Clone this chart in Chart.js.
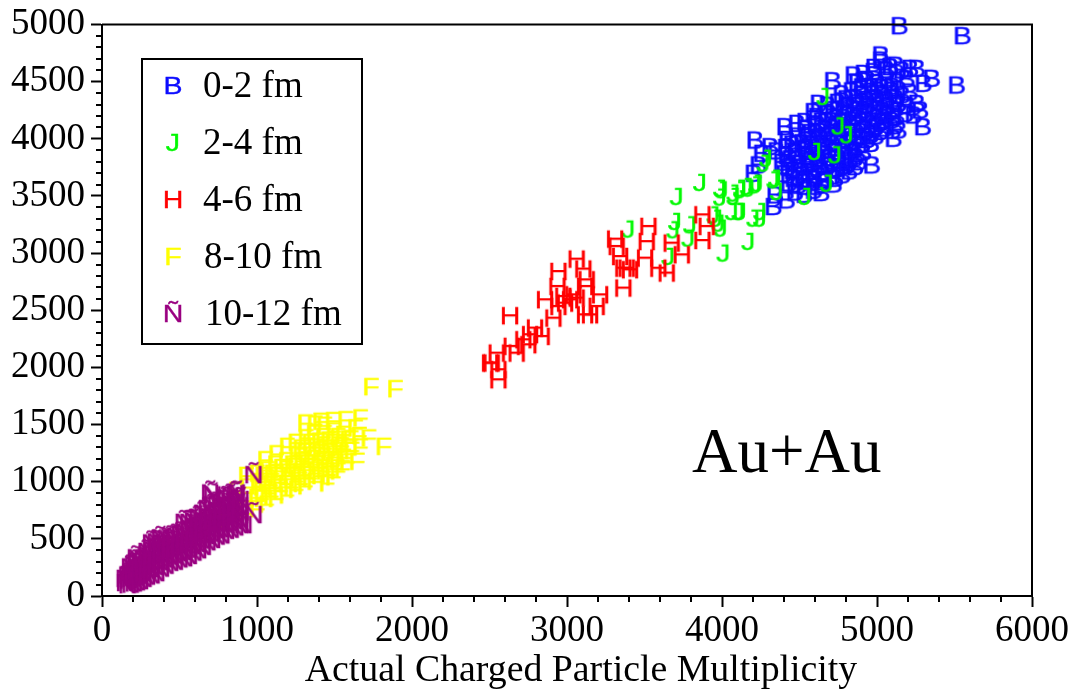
<!DOCTYPE html>
<html>
<head>
<meta charset="utf-8">
<title>Au+Au</title>
<script src="https://cdn.jsdelivr.net/npm/chart.js@4"></script>
<style>
  html, body { margin: 0; padding: 0; background: #fff; }
  #wrap { width: 1075px; height: 692px; }
</style>
</head>
<body>
<div id="wrap"><canvas id="chart" width="1075" height="692"></canvas></div>
<script>
const seriesLabels = ['0-2 fm', '2-4 fm', '4-6 fm', '8-10 fm', '10-12 fm'];
const seriesLetters = ['B', 'J', 'H', 'F', 'Ñ'];
const seriesColors = ['#0c0cff', '#00f800', '#ff0000', '#ffff00', '#990080'];

// [multiplicity, y]
const blue = [
  [5144,4985],[5551,4898],[5514,4466],[4714,4504],[5024,4729],[5024,4685],[4847,4554],[4912,4568],[4976,4583],
  [5084,4627],[5159,4598],[5256,4612],[5213,4612],[5353,4525],[5299,4481],[5256,4306],[5278,4248],[5235,4204],
  [5295,4102],[5106,4000],[5138,4073],[4966,3767],[4858,3752],[4729,3650],[4213,3985],[4310,3927],[4256,3869],
  [4234,3767],[4202,3694],[4342,3505],[4417,3461],[4331,3403],[4622,4306],[4589,4233],[4406,4102],[4482,4131],[4535,4146],
  [4470,3530],[4530,3510],[4590,3545],[4640,3525],
  [4430,3610],[4490,3590],[4555,3625],[4610,3580],[4670,3640],[4720,3600],
  [4400,3690],[4455,3720],[4520,3680],[4585,3710],[4650,3695],[4710,3730],[4775,3680],[4820,3715],
  [4385,3790],[4440,3820],[4505,3780],[4570,3815],[4630,3800],[4695,3830],[4760,3785],[4825,3810],[4880,3795],
  [4350,3890],[4410,3920],[4470,3880],[4535,3910],[4600,3895],[4660,3925],[4725,3885],[4790,3915],[4855,3900],[4910,3880],
  [4420,3990],[4480,4020],[4545,3985],[4610,4010],[4675,3995],[4740,4025],[4805,3980],[4870,4010],[4935,3990],[4990,4020],
  [4540,4090],[4600,4115],[4665,4085],[4730,4110],[4795,4095],[4860,4120],[4925,4080],[4990,4105],[5050,4090],[5115,4110],
  [4610,4190],[4675,4215],[4740,4185],[4805,4210],[4870,4195],[4935,4220],[5000,4180],[5060,4205],[5125,4190],[5180,4215],
  [4680,4290],[4745,4315],[4810,4285],[4875,4310],[4940,4295],[5005,4320],[5070,4280],[5135,4305],[5190,4290],
  [4770,4390],[4835,4415],[4900,4385],[4965,4410],[5030,4395],[5095,4420],[5160,4380],[5210,4405],
  [4870,4490],[4935,4515],[5000,4485],[5065,4510],[5130,4495],[5190,4520],
  [4980,4620],[5060,4600],[5120,4640],
  [4460,3650],[4525,3640],[4590,3660],[4650,3620],[4425,3750],[4490,3740],[4550,3765],[4615,3745],[4680,3760],[4745,3735],[4800,3760],
  [4415,3850],[4480,3845],[4545,3860],[4610,3850],[4670,3865],[4740,3845],[4800,3860],[4860,3845],[4450,3950],[4515,3960],[4575,3945],
  [4640,3955],[4705,3960],[4770,3950],[4835,3960],[4900,3945],[4960,3955],[4570,4050],[4635,4060],[4700,4045],[4765,4060],[4830,4050],
  [4895,4060],[4960,4045],[5020,4060],[4640,4150],[4705,4155],[4770,4145],[4835,4160],[4900,4150],[4965,4155],[5030,4145],[5090,4160],
  [4715,4250],[4780,4245],[4845,4260],[4910,4250],[4970,4255],[5035,4245],[5100,4255],[4800,4345],[4865,4350],[4930,4340],[4995,4355],
  [5060,4345],[5120,4350],[4900,4450],[4965,4455],[5030,4445],[5095,4455]
];
const green = [
  [3396,3205],[3708,3490],[3858,3613],[3987,3563],[3998,3549],[3987,3485],[3697,3272],[3686,3199],[3794,3243],
  [3783,3126],[3654,2966],[3944,3330],[3962,3301],[3977,3257],[3992,3214],[4063,3359],[4116,3359],[4202,3301],
  [4245,3301],[4170,3097],[4009,2995],[4073,3520],[4116,3549],[4159,3578],[4224,3607],[4331,3636],[4267,3782],
  [4654,4365],[4751,4108],[4805,4030],[4600,3884],[4730,3855],[4284,3826],[4342,3651],[4353,3534],[4536,3491],
  [4676,3607],[4117,3563],[4170,3563],[4213,3592],[4106,3359],[4246,3359],[4074,3491]
];
const red = [
  [2632,2448],[2514,2034],[2557,1888],[2503,2034],[2557,1976],[2546,2121],[2643,2180],[2675,2121],[2750,2194],
  [2761,2282],[2793,2340],[2836,2267],[2718,2238],[2912,2427],[2858,2588],[2944,2529],[2987,2558],[3019,2588],
  [3062,2602],[3116,2704],[3213,2631],[3191,2529],[3148,2456],[3116,2456],[2938,2704],[2944,2835],[3062,2943],
  [3105,2856],[3127,2762],[3363,2690],[3310,3118],[3342,2966],[3363,2864],[3406,2850],[3385,2864],[3503,2952],
  [3589,2864],[3643,2821],[3740,2981],[3675,3083],[3514,3097],[3525,3229],[3873,3106],[3901,3229],[3873,3331],
  [2976,2617],[3041,2631],[3320,3054]
];
const yellow = [
  [1735,1827],[1890,1809],[1816,1305],[1310,1509],[1407,1524],[1569,1538],[1665,1553],[1633,1465],[1719,1378],
  [1644,1174],[1450,985],[1192,1305],[1052,1188],
  [800,660],[808,780],[860,700],[852,820],[866,920],[930,720],[925,830],[936,950],[928,1050],
  [1000,760],[994,860],[1006,960],[998,1070],[1060,800],[1068,900],[1055,1000],[1064,1100],
  [1120,850],[1112,950],[1126,1050],[1116,1150],[1124,1240],[1190,880],[1184,980],[1196,1080],[1186,1180],
  [1250,930],[1258,1030],[1244,1130],[1254,1230],[1248,1340],[1310,960],[1304,1060],[1316,1160],[1306,1260],[1314,1380],
  [1370,1000],[1376,1100],[1364,1200],[1374,1300],[1366,1420],[1372,1500],[1430,1090],[1424,1190],[1436,1290],[1426,1390],[1434,1490],
  [1490,1040],[1484,1140],[1496,1240],[1486,1340],[1494,1440],[1488,1530],[1550,1110],[1556,1210],[1544,1310],[1554,1410],
  [1610,1270],[1604,1370],[1665,1300],[1658,1400],
  [1030,850],[1025,950],[1035,1050],[1090,870],[1085,970],[1095,1070],[1150,920],[1145,1020],[1155,1120],[1220,950],[1215,1050],[1225,1150],
  [1280,980],[1275,1080],[1285,1180],[1280,1290],[1340,1030],[1335,1130],[1345,1230],[1340,1340],[1400,1050],[1395,1150],[1405,1250],[1400,1350],
  [1460,1060],[1455,1160],[1465,1260],[1460,1360],[1520,1090],[1515,1190],[1525,1290],[1520,1390],[1580,1170],[1575,1270],[1585,1370]
];
const purple = [
  [977,708],[977,1057],[912,620],[697,897],[869,897],
  [148,114],[146,150],[165,95],[168,135],[163,180],[185,100],[182,150],[188,200],[180,250],
  [205,110],[200,160],[208,210],[202,270],[225,120],[220,170],[228,225],[222,295],[218,330],
  [245,130],[240,180],[248,235],[243,295],[268,150],[264,200],[270,255],[262,315],
  [290,170],[296,220],[288,275],[293,330],[287,385],[320,180],[315,235],[323,290],[318,345],[325,400],[316,460],
  [350,200],[345,255],[353,310],[348,365],[355,420],[346,470],[380,240],[376,295],[384,350],[378,405],[386,460],[375,500],
  [410,265],[405,320],[413,375],[408,430],[414,485],[440,290],[436,345],[444,400],[438,455],[443,505],
  [470,300],[465,355],[474,410],[468,465],[472,520],[500,320],[496,375],[504,430],[498,485],[503,540],
  [530,330],[526,385],[534,440],[528,495],[533,550],[527,640],[560,350],[556,405],[564,460],[558,515],[563,570],[557,640],
  [590,380],[586,435],[594,490],[588,545],[593,600],[587,650],[620,400],[616,455],[624,510],[618,565],[623,620],[617,680],
  [650,430],[646,485],[654,540],[648,595],[653,650],[647,720],[680,470],[676,525],[684,580],[678,635],[683,690],[677,760],
  [710,490],[706,545],[714,600],[708,655],[713,710],[707,780],[712,880],[740,520],[736,575],[744,630],[738,685],[743,740],[737,800],
  [770,530],[766,585],[774,640],[768,695],[773,750],[767,820],[800,570],[796,625],[804,680],[798,735],[803,790],[797,850],
  [830,580],[826,635],[834,690],[828,745],[833,800],[827,870],[860,600],[856,655],[864,710],[858,765],[863,820],[857,890],
  [890,620],[886,675],[894,730],[888,785],[893,840]
];
const seriesValues = [blue, green, red, yellow, purple];

const xMinorTicks = [200,400,600,800,1200,1400,1600,1800,2200,2400,2600,2800,3200,3400,3600,3800,4200,4400,4600,4800,5200,5400,5600,5800];
const yMinorTicks = [100,200,300,400,600,700,800,900,1100,1200,1300,1400,1600,1700,1800,1900,2100,2200,2300,2400,2600,2700,2800,2900,3100,3200,3300,3400,3600,3700,3800,3900,4100,4200,4300,4400,4600,4700,4800,4900];

function makeMarker(letter, color) {
  const c = document.createElement('canvas');
  c.width = 30;
  c.height = 34;
  const g = c.getContext('2d');
  g.font = '23px "Liberation Sans"';
  g.textAlign = 'center';
  g.fillStyle = color;
  g.strokeStyle = color;
  g.lineWidth = 0.35;
  g.translate(15, 25);
  g.scale(1.24, 1);
  g.fillText(letter, 0, 0);
  g.strokeText(letter, 0, 0);
  return c;
}

const datasets = seriesValues.map(function (vals, i) {
  return {
    label: seriesLabels[i],
    data: vals.map(function (p) { return { x: p[0], y: p[1] }; }),
    pointStyle: makeMarker(seriesLetters[i], seriesColors[i]),
    order: seriesValues.length - i, // chart.js puts the lowest order on top, purple goes last in the picture
    showLine: false
  };
});

// minor ticks, the top and right frame lines, the legend box, axis title and the Au+Au note
const extras = {
  id: 'extras',
  afterDraw: function (chart) {
    const ctx = chart.ctx;
    const a = chart.chartArea;
    const xs = chart.scales.x;
    const ys = chart.scales.y;
    ctx.save();
    ctx.strokeStyle = '#000';
    ctx.lineWidth = 2;
    ctx.beginPath();
    xMinorTicks.forEach(function (v) {
      const p = Math.round(xs.getPixelForValue(v));
      ctx.moveTo(p, a.bottom);
      ctx.lineTo(p, a.bottom + 6);
    });
    yMinorTicks.forEach(function (v) {
      const p = Math.round(ys.getPixelForValue(v));
      ctx.moveTo(a.left, p);
      ctx.lineTo(a.left - 6, p);
    });
    ctx.moveTo(a.left, a.top);
    ctx.lineTo(a.right, a.top);
    ctx.lineTo(a.right, a.bottom);
    ctx.stroke();

    ctx.fillStyle = '#fff';
    ctx.fillRect(142, 59, 220, 285);
    ctx.strokeRect(142, 59, 220, 285);
    ctx.fillStyle = '#000';
    ctx.font = '37px "Liberation Serif"';
    ctx.textBaseline = 'alphabetic';
    chart.data.datasets.forEach(function (ds, i) {
      const y = 86 + i * 57;
      ctx.drawImage(ds.pointStyle, 173 - 15, y - 17);
      ctx.fillText(ds.label, i === 3 ? 204 : (i === 4 ? 205 : 203), y + 11);
    });
    ctx.font = '63px "Liberation Serif"';
    ctx.fillText('Au+Au', 692, 472);
    ctx.font = '37.8px "Liberation Serif"';
    ctx.textAlign = 'center';
    ctx.fillText('Actual Charged Particle Multiplicity', 581, 681);
    ctx.restore();
  }
};

new Chart(document.getElementById('chart').getContext('2d'), {
  type: 'scatter',
  data: { datasets: datasets },
  plugins: [extras],
  options: {
    responsive: false,
    animation: false,
    clip: false,
    layout: { padding: { top: 24, right: 43, left: 0, bottom: 0 } },
    elements: { point: { radius: 8 } },
    plugins: {
      legend: { display: false },
      tooltip: { enabled: false }
    },
    scales: {
      x: {
        type: 'linear',
        min: 0,
        max: 6000,
        afterFit: function (s) { s.height = 96; },
        border: { color: '#000', width: 2 },
        grid: { drawOnChartArea: false, tickLength: 11, tickWidth: 2, tickColor: '#000' },
        ticks: {
          stepSize: 1000,
          color: '#000',
          padding: 6,
          maxRotation: 0,
          font: { family: '"Liberation Serif"', size: 37, lineHeight: 1 },
          callback: function (v) { return String(v); }
        }
      },
      y: {
        type: 'linear',
        min: 0,
        max: 5000,
        afterFit: function (s) { s.width = 102; },
        border: { color: '#000', width: 2 },
        grid: { drawOnChartArea: false, tickLength: 11, tickWidth: 2, tickColor: '#000' },
        ticks: {
          stepSize: 500,
          color: '#000',
          padding: 6,
          font: { family: '"Liberation Serif"', size: 37, lineHeight: 1 },
          callback: function (v) { return String(v); }
        }
      }
    }
  }
});
</script>
</body>
</html>
